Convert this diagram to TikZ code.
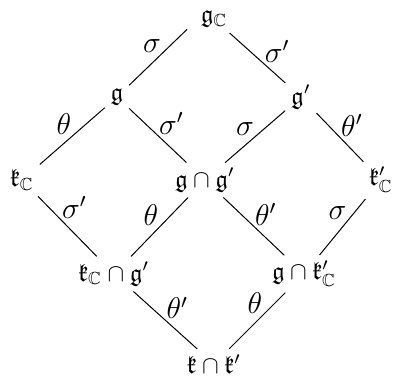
\documentclass[tikz,border=0pt]{standalone}
\usepackage{amsmath, amssymb}
\usetikzlibrary{positioning}
\begin{document}
\begin{tikzpicture}[x=0.4pt, y=-0.4pt,
    alg/.style={inner sep=1pt},
    inv/.style={thin, shorten <=1.6pt, shorten >=1.6pt},
    lbl/.style={inner sep=0.3pt, font=\large}]
        \useasboundingbox (0,0) rectangle (394,375);
        % Lie algebras
        \node[alg] (gC)  at (214,19)  {$\mathfrak{g}_{\mathbb{C}}$};
        \node[alg] (g)   at (117,97)  {$\mathfrak{g}$};
        \node[alg] (gp)  at (301,97)  {$\mathfrak{g}'$};
        \node[alg] (kC)  at (22,180)  {$\mathfrak{k}_{\mathbb{C}}$};
        \node[alg] (ggp) at (205,180) {$\mathfrak{g}\cap\mathfrak{g}'$};
        \node[alg] (kpC) at (381,180) {$\mathfrak{k}'_{\mathbb{C}}$};
        \node[alg] (kCgp) at (114,274) {$\mathfrak{k}_{\mathbb{C}}\cap\mathfrak{g}'$};
        \node[alg] (gkpC) at (304,274) {$\mathfrak{g}\cap\mathfrak{k}'_{\mathbb{C}}$};
        \node[alg] (kkp) at (214,364) {$\mathfrak{k}\cap\mathfrak{k}'$};
        % Upper half
        \draw[inv, shorten >=6pt] (g) -- (gC.west) node[lbl, midway, above left] {$\sigma$};
        \draw[inv] (gC) -- (gp) node[lbl, pos=0.6, above right] {$\sigma'$};
        \draw[inv] (kC) -- (g) node[lbl, midway, above left] {$\theta$};
        \draw[inv] (g) -- (ggp) node[lbl, midway, above right] {$\sigma'$};
        \draw[inv] (ggp) -- (gp) node[lbl, midway, above left] {$\sigma$};
        \draw[inv] (gp) -- (kpC) node[lbl, midway, above right] {$\theta'$};
        % Lower half
        \draw[inv] (kC) -- (kCgp) node[lbl, pos=0.4, above right] {$\sigma'$};
        \draw[inv] (kCgp) -- (ggp) node[lbl, midway, above left] {$\theta$};
        \draw[inv] (ggp) -- (gkpC) node[lbl, midway, above right] {$\theta'$};
        \draw[inv] (gkpC) -- (kpC) node[lbl, pos=0.6, above left] {$\sigma$};
        \draw[inv] (kCgp) -- (kkp) node[lbl, midway, above right] {$\theta'$};
        \draw[inv] (kkp) -- (gkpC) node[lbl, pos=0.6, above left] {$\theta$};
      \end{tikzpicture}
\end{document}
